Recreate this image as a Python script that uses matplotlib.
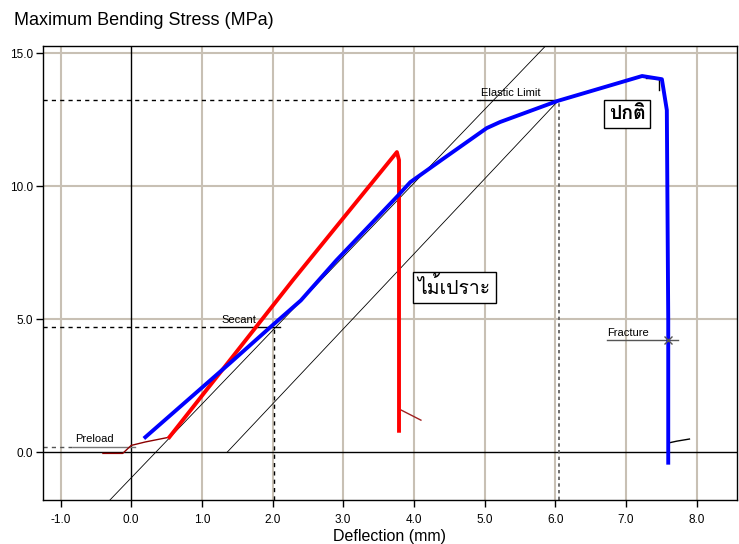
import matplotlib
matplotlib.use("Agg")
import matplotlib.pyplot as plt
from matplotlib import font_manager
from matplotlib.ft2font import FT2Font

# curve data (deflection mm, stress MPa)
blue_x = [0.20, 1.40, 2.00, 2.40, 2.90, 3.76, 3.95, 4.40, 5.03, 5.22, 6.03, 7.23, 7.51, 7.58, 7.60, 7.60]
blue_y = [0.56, 3.35, 4.77, 5.70, 7.20, 9.60, 10.15, 11.00, 12.18, 12.41, 13.20, 14.14, 14.02, 12.86, 5.00, -0.40]

red_x = [0.54, 2.29, 3.76, 3.79, 3.79, 3.79]
red_y = [0.56, 6.47, 11.28, 10.98, 5.00, 0.80]

pre_x = [-0.40, -0.12, 0.00, 0.20, 0.54]
pre_y = [-0.05, -0.05, 0.25, 0.38, 0.56]

red_tail_x = [3.82, 4.10]
red_tail_y = [1.58, 1.20]
blue_tail_x = [7.60, 7.72, 7.90]
blue_tail_y = [0.34, 0.41, 0.49]

secant_x, secant_y = 2.02, 4.70
elastic_x, elastic_y = 6.05, 13.23
preload_y = 0.20
fracture_x, fracture_y = 7.60, 4.20

x_ticks = [-1, 0, 1, 2, 3, 4, 5, 6, 7, 8]
y_ticks = [0, 5, 10, 15]
xlim = (-1.25, 8.57)
ylim = (-1.8, 15.26)


def thai_font():
    # look for an installed font that has Thai glyphs
    for f in font_manager.fontManager.ttflist:
        try:
            cm = FT2Font(f.fname).get_charmap()
        except Exception:
            continue
        if ord("ก") in cm and ord("ป") in cm:
            return f.name
    return None


def main():
    plt.rcParams["font.family"] = ["Liberation Sans", "DejaVu Sans"]
    tf = thai_font()
    thai_family = [tf, "DejaVu Sans"] if tf else ["DejaVu Sans"]

    fig = plt.figure(figsize=(7.39, 5.44), dpi=100)
    ax = fig.add_axes([0.058, 0.081, 0.939, 0.834])
    ax.set_xlim(*xlim)
    ax.set_ylim(*ylim)

    grid_c = "#c8c0b4"
    for x in x_ticks:
        if x != 0:
            ax.axvline(x, color=grid_c, lw=1.5, zorder=0)
    for y in y_ticks:
        if y != 0:
            ax.axhline(y, color=grid_c, lw=1.5, zorder=0)
    ax.axvline(0, color="black", lw=1.0, zorder=1)
    ax.axhline(0, color="black", lw=1.0, zorder=1)

    # secant lines
    ax.plot([-0.30, 5.86], [-1.8, 15.26], color="black", lw=0.6, zorder=2)
    ax.plot([1.36, elastic_x], [0, elastic_y], color="black", lw=0.6, zorder=2)

    # markers with dashed guides
    ax.plot([xlim[0], -0.82], [preload_y, preload_y], color="#555555", lw=1, ls=(0, (3, 3)))
    ax.plot([-0.82, 0.05], [preload_y, preload_y], color="#777777", lw=1)
    ax.text(-0.80, preload_y + 0.12, "Preload", fontsize=8, va="bottom")

    ax.plot([xlim[0], 1.26], [secant_y, secant_y], color="black", lw=1, ls=(0, (3, 3)))
    ax.plot([1.26, 2.1], [secant_y, secant_y], color="black", lw=1)
    ax.plot([secant_x, secant_x], [ylim[0], secant_y], color="black", lw=1, ls=(0, (3, 3)))
    ax.text(1.28, secant_y + 0.08, "Secant", fontsize=8, va="bottom")

    ax.plot([xlim[0], 4.94], [elastic_y, elastic_y], color="black", lw=1, ls=(0, (3, 3)))
    ax.plot([4.94, elastic_x], [elastic_y, elastic_y], color="black", lw=1)
    ax.plot([elastic_x, elastic_x], [ylim[0], elastic_y], color="#555555", lw=1.2, ls=(0, (2, 2)))
    ax.text(4.95, elastic_y + 0.08, "Elastic Limit", fontsize=8, va="bottom")

    ax.plot([6.73, 7.74], [fracture_y, fracture_y], color="#555555", lw=1)
    ax.text(6.73, fracture_y + 0.08, "Fracture", fontsize=8, va="bottom")
    ax.plot(fracture_x, fracture_y, marker="x", color="#555555", ms=6, mew=1, zorder=6)

    # thin side traces
    ax.plot(pre_x, pre_y, color="#8b0000", lw=1, zorder=3)
    ax.plot(red_tail_x, red_tail_y, color="#a02020", lw=1, zorder=3)
    ax.plot(blue_tail_x, blue_tail_y, color="black", lw=1, zorder=3)
    ax.plot([7.29, 7.47, 7.47], [14.06, 14.06, 13.6], color="black", lw=1, zorder=3)

    # main curves
    ax.plot(red_x, red_y, color="#ff0000", lw=2.8, zorder=4, solid_joinstyle="round")
    ax.plot(blue_x, blue_y, color="#0000ff", lw=2.8, zorder=5, solid_joinstyle="round")

    box = dict(boxstyle="square,pad=0.25", fc="white", ec="black", lw=1)
    ax.text(4.57, 6.2, "ไม้เปราะ", fontsize=14, family=thai_family,
            ha="center", va="center", bbox=box, zorder=7)
    ax.text(7.02, 12.7, "ปกติ", fontsize=14, fontweight="bold", family=thai_family,
            ha="center", va="center", bbox=box, zorder=7)

    ax.set_xticks(x_ticks)
    ax.set_xticklabels([f"{v:.1f}" for v in x_ticks])
    ax.set_yticks(y_ticks)
    ax.set_yticklabels([f"{v:.1f}" for v in y_ticks])
    ax.tick_params(labelsize=8.5, length=5, width=1, direction="out")
    ax.tick_params(axis="x", pad=5)
    ax.tick_params(axis="y", pad=2)
    for sp in ax.spines.values():
        sp.set_linewidth(1)

    ax.set_xlabel("Deflection (mm)", fontsize=11.5, labelpad=2)
    fig.text(0.019, 0.962, "Maximum Bending Stress (MPa)", fontsize=13, va="center")

    fig.savefig("out.png", dpi=100)


if __name__ == "__main__":
    main()
